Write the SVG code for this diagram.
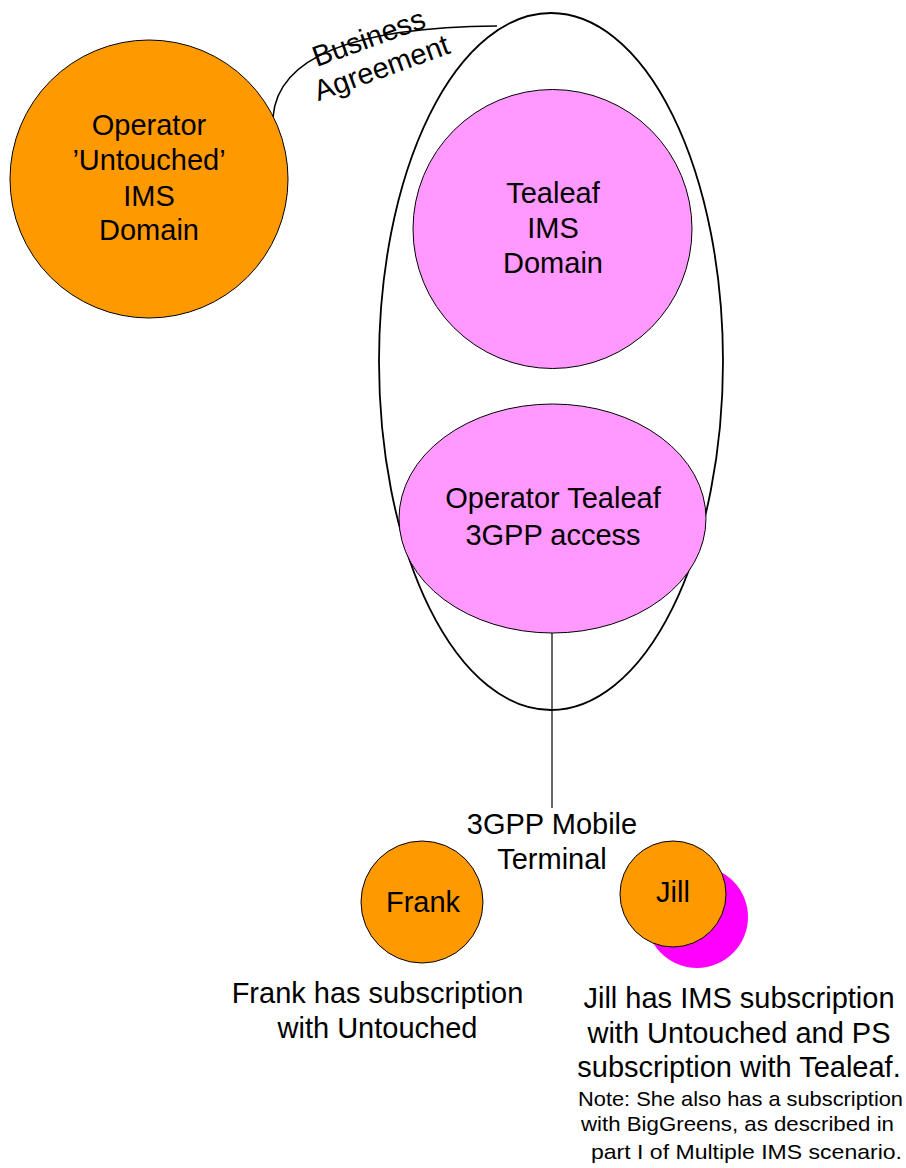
<svg xmlns="http://www.w3.org/2000/svg" width="906" height="1168" viewBox="0 0 906 1168">
<style>
text{font-family:"Liberation Sans",Arial,sans-serif;fill:#000;text-anchor:middle}
.big{font-size:29px}
.note{font-size:21px}
.orange{fill:#FF9900;stroke:#000;stroke-width:1}
.pink{fill:#FF99FF;stroke:#000;stroke-width:1}
.conn{fill:none;stroke:#000;stroke-width:1.5}
</style>
<rect width="906" height="1168" fill="#fff"/>
<g id="tealeaf-network">
<ellipse cx="551" cy="361.5" rx="172" ry="348.5" fill="none" stroke="#000" stroke-width="1.8"/>
</g>
<g id="connectors">
<path class="conn" d="M273,117 C278,55 360,27 497,26"/>
<line x1="552" y1="633" x2="552" y2="808" stroke="#000" stroke-width="1.2"/>
</g>
<g id="business-agreement-label">
<text class="big" transform="translate(372,47) rotate(-20)" x="0" y="0">Business</text>
<text class="big" transform="translate(385,77) rotate(-20)" x="0" y="0">Agreement</text>
</g>
<g id="untouched-ims">
<circle class="orange" cx="149" cy="179" r="139"/>
<text class="big" x="149" y="135">Operator</text>
<text class="big" x="149" y="170">’Untouched’</text>
<text class="big" x="149" y="206">IMS</text>
<text class="big" x="149" y="240">Domain</text>
</g>
<g id="tealeaf-ims">
<circle class="pink" cx="552.5" cy="229" r="139.5"/>
<text class="big" x="553" y="203">Tealeaf</text>
<text class="big" x="553" y="238">IMS</text>
<text class="big" x="553" y="273">Domain</text>
</g>
<g id="tealeaf-access">
<ellipse class="pink" cx="552.5" cy="518.5" rx="153.5" ry="114.5"/>
<text class="big" x="553" y="508">Operator Tealeaf</text>
<text class="big" x="553" y="545">3GPP access</text>
</g>
<g id="mobile-terminal">
<text class="big" x="552" y="834">3GPP Mobile</text>
<text class="big" x="552" y="869">Terminal</text>
</g>
<g id="frank">
<circle class="orange" cx="422" cy="902" r="61"/>
<text class="big" x="423" y="912">Frank</text>
</g>
<g id="jill">
<circle cx="697" cy="917" r="51" fill="#FF00FF"/>
<circle class="orange" cx="673" cy="894" r="53"/>
<text class="big" x="673" y="902">Jill</text>
</g>
<g id="frank-note">
<text class="big" x="377.5" y="1003">Frank has subscription</text>
<text class="big" x="377.5" y="1038">with Untouched</text>
</g>
<g id="jill-note">
<text class="big" x="739" y="1008">Jill has IMS subscription</text>
<text class="big" x="739" y="1043">with Untouched and PS</text>
<text class="big" x="739" y="1077">subscription with Tealeaf.</text>
<text class="note" x="740.5" y="1106" textLength="325" lengthAdjust="spacingAndGlyphs">Note: She also has a subscription</text>
<text class="note" x="737.5" y="1131" textLength="313" lengthAdjust="spacingAndGlyphs">with BigGreens, as described in</text>
<text class="note" x="746.5" y="1159" textLength="311" lengthAdjust="spacingAndGlyphs">part I of Multiple IMS scenario.</text>
</g>
</svg>
